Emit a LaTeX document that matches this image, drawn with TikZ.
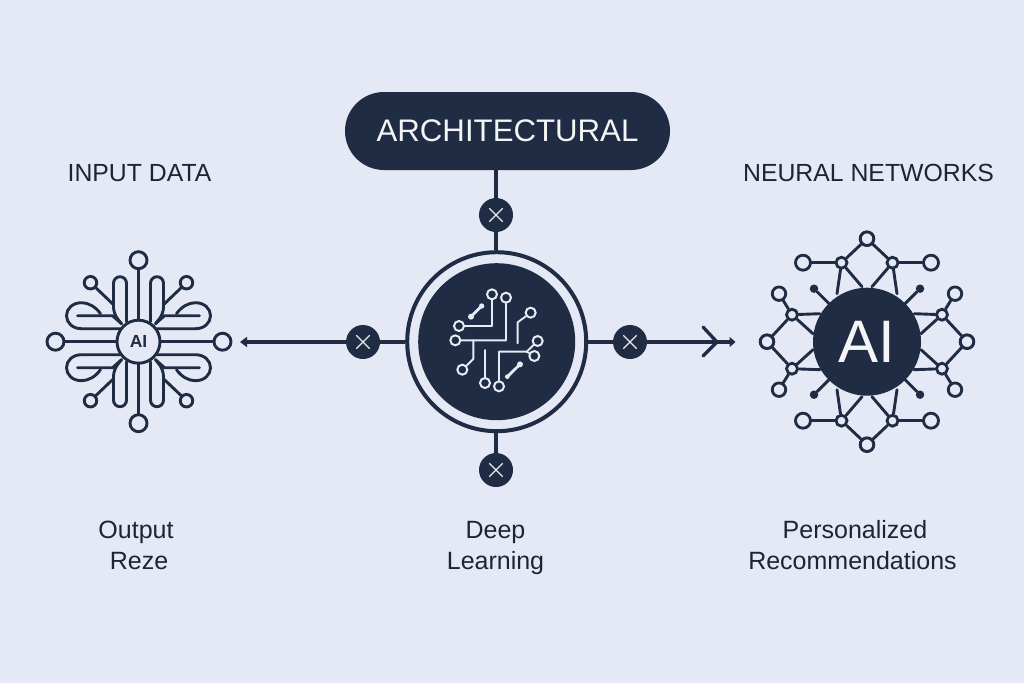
\documentclass[tikz,border=0pt]{standalone}
\usepackage{fontspec}
\setmainfont{Liberation Sans}
\usetikzlibrary{arrows.meta,shapes.misc}
\definecolor{bgc}{HTML}{E4E9F5}
\definecolor{ink}{HTML}{202C43}
\definecolor{txt}{HTML}{1F2530}
\definecolor{wire}{HTML}{E6EBF5}
\tikzset{
  conn/.style={draw=ink,line width=3.3pt},
  xbadge/.style={circle,fill=ink,inner sep=0pt,minimum size=34pt,
    path picture={\draw[white!90!ink,line width=1.3pt,line cap=round]
      (path picture bounding box.center) ++(-6.5,-6.5) -- ++(13,13) ++(-13,0) -- ++(13,-13);}},
  lbl/.style={text=txt,align=center,inner sep=0pt,font=\fontsize{25}{31}\selectfont},
  head/.style={text=txt,inner sep=0pt,font=\fontsize{24.8}{26}\selectfont},
  lw/.style={draw=ink,line width=2.9pt,line cap=round,line join=round},
  ringA/.style={circle,draw=ink,fill=bgc,line width=2.9pt,inner sep=0pt,minimum size=#1},
  cw/.style={draw=wire,line width=1.9pt,line join=round,line cap=round},
  cn/.style={circle,draw=wire,fill=ink,line width=2pt,inner sep=0pt,minimum size=10pt},
  nn/.style={circle,draw=ink,fill=bgc,line width=2.8pt,inner sep=0pt,minimum size=#1},
  nd/.style={circle,fill=ink,inner sep=0pt,minimum size=8.5pt},
}
\begin{document}
\begin{tikzpicture}[x=1pt,y=-1pt]
\fill[bgc] (0,0) rectangle (1024,683);
\useasboundingbox (0,0) rectangle (1024,683);

% centre hub
\node[circle,draw=ink,fill=bgc,line width=4pt,inner sep=0pt,minimum size=179pt] (ring) at (496.7,341.7) {};
\node[circle,fill=ink,inner sep=0pt,minimum size=157pt] (core) at (496.7,341.7) {};

% pill
\node[rounded rectangle,fill=ink,text=white!95!ink,minimum width=325pt,minimum height=78pt,inner sep=0pt,
  font=\fontsize{31.2}{32}\selectfont] (pill) at (507.5,131) {ARCHITECTURAL};

% badges
\node[xbadge] (bt) at (496,215) {};
\node[xbadge] (bb) at (496,470) {};
\node[xbadge] (bl) at (363,342) {};
\node[xbadge] (br) at (630,342) {};
\coordinate (arrL) at (240,342);
\coordinate (arrR) at (735.5,342);
\draw[conn] (bt |- pill.south) -- (bt);
\draw[conn] (bt) -- (bt |- ring.north);
\draw[conn] (bb |- ring.south) -- (bb);
\draw[conn] (ring.west |- bl) -- (bl);
\draw[conn] (ring.east |- br) -- (br);
\draw[conn,-{Triangle[length=7pt,width=10pt]}] (bl) -- (arrL);
\draw[conn,-{Triangle[length=6pt,width=10pt]}] (br) -- (arrR);
\coordinate (cvA) at (703,327);
\coordinate (cvB) at (717,342);
\coordinate (cvC) at (703,356);
\draw[conn,line cap=round,line join=round] (cvA) -- (cvB) -- (cvC);

% centre circuit (zoom coordinates)
\begin{scope}[shift={(390,235)},scale=1/3]
  \node[cn] (c1) at (306,178) {};
  \node[cn] (c2) at (348,188) {};
  \node[cn] (c3) at (207,273) {};
  \node[cn] (c4) at (196,316) {};
  \node[cn] (c5) at (422,233) {};
  \node[cn] (c6) at (443,318) {};
  \node[cn] (c7) at (433,363) {};
  \node[cn] (c8) at (217,404) {};
  \node[cn] (c9) at (285,444) {};
  \node[cn] (c10) at (327,454) {};
  \draw[cw] (c1) -- (306,273) -- (c3);
  \draw[cw] (c2) -- (348,316) -- (c4);
  \draw[cw] (250,316) -- (250,372) -- (c8);
  \draw[cw] (285,345) -- (c9);
  \draw[cw] (c10) -- (327,350) -- (410,350) -- (c6);
  \draw[cw] (410,350) -- (c7);
  \draw[cw] (383,325) -- (383,262) -- (c5);
  \draw[wire,line width=2.8pt,line cap=round] (243,245) -- (275,213);
  \draw[wire,line width=2.8pt,line cap=round] (352,425) -- (390,388);
  \fill[wire] (243,245) circle[radius=9] (275,213) circle[radius=8] (352,425) circle[radius=7] (390,388) circle[radius=9];
\end{scope}

% left icon
\begin{scope}[shift={(138.5,341.7)}]
  \coordinate (lhub) at (0,0);
  \foreach \sx/\sy in {1/1,-1/1,1/-1,-1/-1}{
    \begin{scope}[xscale=\sx,yscale=\sy]
      \draw[lw,rounded corners=6.5pt] (-17,-18) -- (-25,-28) -- (-25,-65) -- (-12,-65) -- (-12,-20);
      \draw[lw] (-18,-13) -- (-57,-13) .. controls (-66,-13) and (-72,-19) .. (-72,-26)
        .. controls (-72,-33) and (-66,-39) .. (-57,-39)
        .. controls (-50,-39) and (-43,-35) .. (-38,-28);
      \draw[lw] (-61,-26) -- (-26,-26) -- (-17,-18);
      \node[ringA=12.5pt] (ld) at (-48,-59) {};
      \draw[lw] (ld) -- (-26,-38);
    \end{scope}
  }
  \node[ringA=17pt] (ln) at (0,-81.5) {};
  \node[ringA=17pt] (ls) at (0,81.5) {};
  \node[ringA=17pt] (lw) at (-83,0) {};
  \node[ringA=17pt] (le) at (84,0) {};
  \draw[lw] (lhub) -- (ln);
  \draw[lw] (lhub) -- (ls);
  \draw[lw] (lhub) -- (lw);
  \draw[lw] (lhub) -- (le);
  \node[circle,draw=ink,fill=bgc,line width=2.9pt,inner sep=0pt,minimum size=43pt,text=ink,
    font=\bfseries\fontsize{17.5}{18}\selectfont] at (lhub) {AI};
\end{scope}

% right icon
\begin{scope}[shift={(867,341.7)}]
  \coordinate (rhub) at (0,0);
  \foreach \sx/\sy in {1/1,-1/1,1/-1,-1/-1}{
    \begin{scope}[xscale=\sx,yscale=\sy]
      \coordinate (h1) at (-30,-48);
      \coordinate (h2) at (-5,-55);
      \coordinate (h3) at (-47,-28);
      \coordinate (h4) at (-54,-8);
      \coordinate (h5) at (-37,-37);
      \node[nn=13.5pt] (t) at (0,-103) {};
      \node[nn=11pt] (a) at (-25.5,-79) {};
      \node[nn=15pt] (b) at (-64,-79) {};
      \node[nn=13.5pt] (l1) at (-88,-48) {};
      \node[nn=11pt] (c) at (-75,-27) {};
      \node[nn=13.5pt] (l) at (-100,0) {};
      \node[nd] (d) at (-53,-53) {};
      \draw[lw] (t) -- (a);
      \draw[lw] (a) -- (b);
      \draw[lw] (a) -- (h1);
      \draw[lw] (a) -- (h2);
      \draw[lw] (c) -- (l1);
      \draw[lw] (c) -- (l);
      \draw[lw] (c) -- (h3);
      \draw[lw] (c) -- (h4);
      \draw[lw] (d) -- (h5);
    \end{scope}
  }
  \node[circle,fill=ink,inner sep=0pt,minimum size=108pt,text=white!95!ink,
    font=\fontsize{60}{62}\selectfont] at (rhub) {AI};
\end{scope}

% labels
\node[head] (t1) at (139.5,173) {INPUT DATA};
\node[head] (t2) at (868.5,173) {NEURAL NETWORKS};
\node[lbl] (t3) at (137.5,548) {\strut Output\hspace*{3pt}\\\strut\hspace*{3pt}Reze};
\node[lbl] (t4) at (495.5,548) {\strut Deep\\\strut Learning};
\node[lbl] (t5) at (852.5,548) {\strut\hspace*{5pt}Personalized\\\strut Recommendations};
\end{tikzpicture}
\end{document}
